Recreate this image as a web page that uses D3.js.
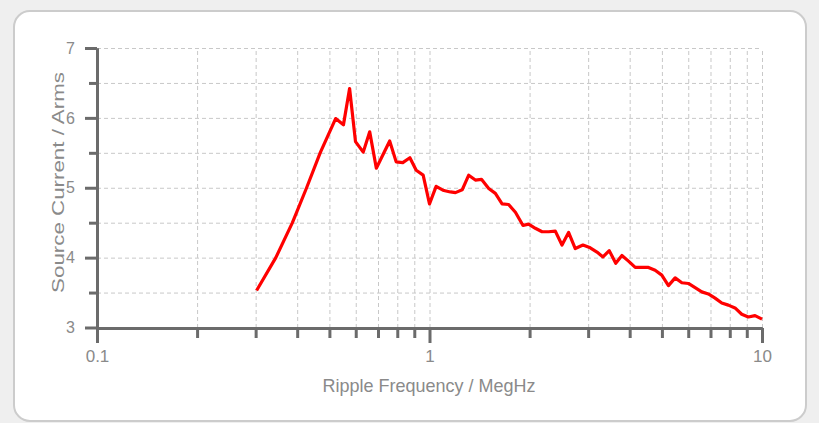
<!DOCTYPE html>
<html>
<head>
<meta charset="utf-8">
<script src="https://cdn.jsdelivr.net/npm/d3@7"></script>
<style>
  html, body { margin: 0; padding: 0; background: #efefef; }
  svg { display: block; font-family: "Liberation Sans", Arial, sans-serif; }
  .tick-label { fill: #8a8a8a; }
  .axis-title { fill: #8a8a8a; }
</style>
</head>
<body>
<div id="chart"></div>
<script>
// Data (frequency in MegHz, current in Arms)
const frequency = [0.302, 0.345, 0.387, 0.427, 0.469, 0.522, 0.551, 0.575, 0.599, 0.632, 0.661,
  0.692, 0.759, 0.794, 0.831, 0.873, 0.912, 0.957, 1.0, 1.047, 1.104,
  1.156, 1.197, 1.254, 1.312, 1.374, 1.433, 1.507, 1.578, 1.653, 1.730,
  1.813, 1.911, 1.987, 2.081, 2.181, 2.282, 2.390, 2.503, 2.620, 2.744,
  2.894, 3.044, 3.189, 3.324, 3.472, 3.632, 3.791, 3.967, 4.156, 4.352,
  4.556, 4.771, 4.996, 5.232, 5.480, 5.740, 6.007, 6.292, 6.590, 6.898,
  7.225, 7.568, 7.920, 8.296, 8.690, 9.097, 9.528, 10.0];
const current = [3.53, 4.00, 4.50, 5.00, 5.50, 5.99, 5.90, 6.42, 5.66, 5.51, 5.80,
  5.28, 5.67, 5.37, 5.36, 5.43, 5.25, 5.18, 4.77, 5.02, 4.96,
  4.94, 4.93, 4.97, 5.18, 5.11, 5.12, 4.99, 4.92, 4.77, 4.76,
  4.65, 4.46, 4.48, 4.42, 4.37, 4.37, 4.38, 4.18, 4.36, 4.13,
  4.18, 4.14, 4.08, 4.01, 4.10, 3.92, 4.03, 3.95, 3.86, 3.86,
  3.86, 3.82, 3.75, 3.60, 3.71, 3.64, 3.63, 3.57, 3.51, 3.48,
  3.42, 3.35, 3.32, 3.28, 3.19, 3.15, 3.17, 3.12];

// Tick values
const xMajorTicks = [0.1, 1, 10];
const xMinorTicks = [0.2, 0.3, 0.4, 0.5, 0.6, 0.7, 0.8, 0.9, 2, 3, 4, 5, 6, 7, 8, 9];
const yMajorTicks = [3, 4, 5, 6, 7];
const yMinorTicks = [3.5, 4.5, 5.5, 6.5];
const xTickLabels = ["0.1", "1", "10"];

const xTitle = "Ripple Frequency / MegHz";
const yTitle = "Source Current / Arms";

// Setup: dimensions
const svgWidth = 819;
const svgHeight = 423;
const plot = { left: 97, right: 762, top: 48, bottom: 328 };

const svg = d3.select("#chart")
  .append("svg")
  .attr("width", svgWidth)
  .attr("height", svgHeight);

// Card background
svg.append("rect")
  .attr("x", 14)
  .attr("y", 11)
  .attr("width", 792)
  .attr("height", 410)
  .attr("rx", 16)
  .attr("fill", "#fff")
  .attr("stroke", "#cccccc")
  .attr("stroke-width", 2);

// Scales
const xScale = d3.scaleLog()
  .domain([0.1, 10])
  .range([plot.left, plot.right]);

const yScale = d3.scaleLinear()
  .domain([3, 7])
  .range([plot.bottom - 0.5, plot.top]);

const innerHeight = plot.bottom - plot.top;
const innerWidth = plot.right - plot.left;

// Grid lines
const gridX = svg.append("g")
  .attr("transform", `translate(0, ${plot.bottom})`)
  .call(d3.axisBottom(xScale)
    .tickValues(xMinorTicks.concat([1, 10]))
    .tickSizeInner(-innerHeight)
    .tickSizeOuter(0)
    .tickFormat(""));

const gridY = svg.append("g")
  .attr("transform", `translate(${plot.left}, 0)`)
  .call(d3.axisLeft(yScale)
    .tickValues(yMinorTicks.concat([4, 5, 6, 7]))
    .tickSizeInner(-innerWidth)
    .tickSizeOuter(0)
    .tickFormat(""));

[gridX, gridY].forEach(g => {
  g.select(".domain").remove();
  g.selectAll(".tick line")
    .attr("stroke", "#c8c8c8")
    .attr("stroke-width", 1)
    .attr("stroke-dasharray", "4,3");
});

// Line
const dataset = frequency.map((f, i) => ({ f: f, v: current[i] }));

const line = d3.line()
  .x(d => xScale(d.f))
  .y(d => yScale(d.v));

svg.append("path")
  .datum(dataset)
  .attr("fill", "none")
  .attr("stroke", "#ff0000")
  .attr("stroke-width", 3.2)
  .attr("stroke-linejoin", "round")
  .attr("d", line);

// Axes
const axisColor = "#6b6b6b";

function styleAxis(g) {
  g.select(".domain")
    .attr("stroke", axisColor)
    .attr("stroke-width", 3);
  g.selectAll(".tick line")
    .attr("stroke", axisColor)
    .attr("stroke-width", 3);
}

svg.append("g")
  .attr("transform", `translate(0, ${plot.bottom})`)
  .call(d3.axisBottom(xScale)
    .tickValues(xMinorTicks)
    .tickSizeInner(10)
    .tickSizeOuter(0)
    .tickFormat(""))
  .call(styleAxis);

svg.append("g")
  .attr("transform", `translate(0, ${plot.bottom})`)
  .call(d3.axisBottom(xScale)
    .tickValues(xMajorTicks)
    .tickSizeInner(15)
    .tickSizeOuter(0)
    .tickPadding(7)
    .tickFormat((d, i) => xTickLabels[i]))
  .call(styleAxis)
  .call(g => g.selectAll(".tick text")
    .attr("class", "tick-label")
    .attr("font-size", 17));

svg.append("g")
  .attr("transform", `translate(${plot.left}, 0)`)
  .call(d3.axisLeft(yScale)
    .tickValues(yMinorTicks)
    .tickSizeInner(8)
    .tickSizeOuter(0)
    .tickFormat(""))
  .call(styleAxis);

svg.append("g")
  .attr("transform", `translate(${plot.left}, 0)`)
  .call(d3.axisLeft(yScale)
    .tickValues(yMajorTicks)
    .tickSizeInner(12)
    .tickSizeOuter(0)
    .tickPadding(10)
    .tickFormat(d3.format("d")))
  .call(styleAxis)
  .call(g => g.selectAll(".tick text")
    .attr("class", "tick-label")
    .attr("font-size", 16));

// Font family back on the axis groups (d3 sets sans-serif there)
svg.selectAll("g").attr("font-family", null);

// Axis titles (the reference draws them slightly stretched: fit them to the measured length)
const xLabel = svg.append("text")
  .attr("class", "axis-title")
  .attr("text-anchor", "middle")
  .attr("font-size", 18)
  .text(xTitle);
const xScaleX = 213 / xLabel.node().getComputedTextLength();
xLabel.attr("transform", `translate(429, 392) scale(${xScaleX}, 1)`);

const yLabel = svg.append("text")
  .attr("class", "axis-title")
  .attr("text-anchor", "middle")
  .attr("font-size", 16.5)
  .text(yTitle);
const yScaleX = 221 / yLabel.node().getComputedTextLength();
yLabel.attr("transform", `translate(63.5, 182.5) rotate(-90) scale(${yScaleX}, 1)`);
</script>
</body>
</html>
